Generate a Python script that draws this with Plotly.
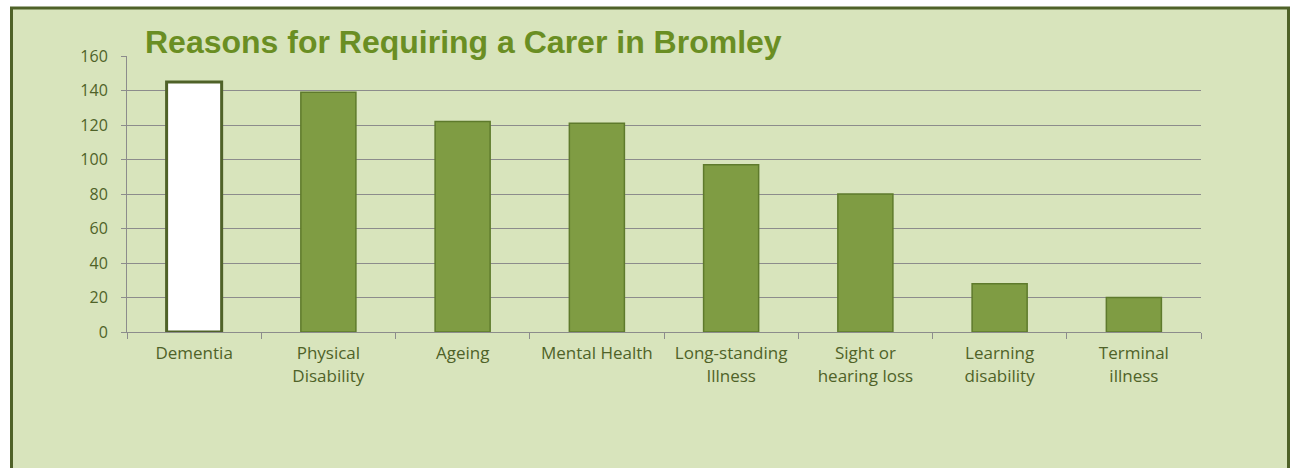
import plotly.graph_objects as go

categories = ["Dementia", "Physical<br>Disability", "Ageing", "Mental Health",
              "Long-standing<br>Illness", "Sight or<br>hearing loss",
              "Learning<br>disability", "Terminal<br>illness"]
values = [145, 139, 122, 121, 97, 80, 28, 20]
title_text = "Reasons for Requiring a Carer in Bromley"

W, H = 1294, 468
L, R, T, B = 127, 93, 56, 136
PW, PH = W - L - R, H - T - B
panel = "#D8E4BC"
dark = "#4F6228"

def px(x):
    return (x - L) / PW

def py(y):
    return (H - B - y) / PH

fills = ["#FFFFFF"] + ["#7F9C43"] * (len(values) - 1)
lines = [dark] + ["#5E7A2C"] * (len(values) - 1)
lws = [3] + [1.5] * (len(values) - 1)

fig = go.Figure(go.Bar(
    x=categories, y=values, width=0.41,
    marker=dict(color=fills, line=dict(color=lines, width=lws)),
    hoverinfo="x+y",
))

fig.update_layout(
    width=W, height=H,
    margin=dict(l=L, r=R, t=T, b=B),
    paper_bgcolor="white",
    plot_bgcolor=panel,
    showlegend=False,
    font=dict(family="Open Sans", size=16, color="#4F6228"),
    shapes=[dict(type="rect", xref="paper", yref="paper",
                 x0=px(11.5), x1=px(1288.5), y0=py(490), y1=py(8),
                 line=dict(color=dark, width=3), fillcolor=panel, layer="below")],
    annotations=[dict(text="<b>" + title_text + "</b>", xref="paper", yref="paper",
                      x=px(143), y=py(22), xanchor="left", yanchor="top",
                      showarrow=False,
                      font=dict(family="Liberation Sans, Arial", size=32, color="#6A8E23"))],
)

fig.update_xaxes(showline=True, linecolor="#8C8C8C", linewidth=1,
                 ticks="outside", ticklen=6, tickcolor="#8C8C8C",
                 tickson="boundaries", showgrid=False, ticklabelstandoff=6,
                 tickfont=dict(size=17, color="#4F6228"))
fig.update_yaxes(range=[0, 160], dtick=20, showline=True, linecolor="#8C8C8C",
                 linewidth=1, ticks="outside", ticklen=5, tickcolor="#8C8C8C",
                 gridcolor="#8C8C8C", gridwidth=1, zeroline=False,
                 ticklabelstandoff=10,
                 tickfont=dict(size=16, color="#4F6228"))

fig.write_html("out.html", config={"displayModeBar": False},
               post_script="document.body.style.margin='0';")
